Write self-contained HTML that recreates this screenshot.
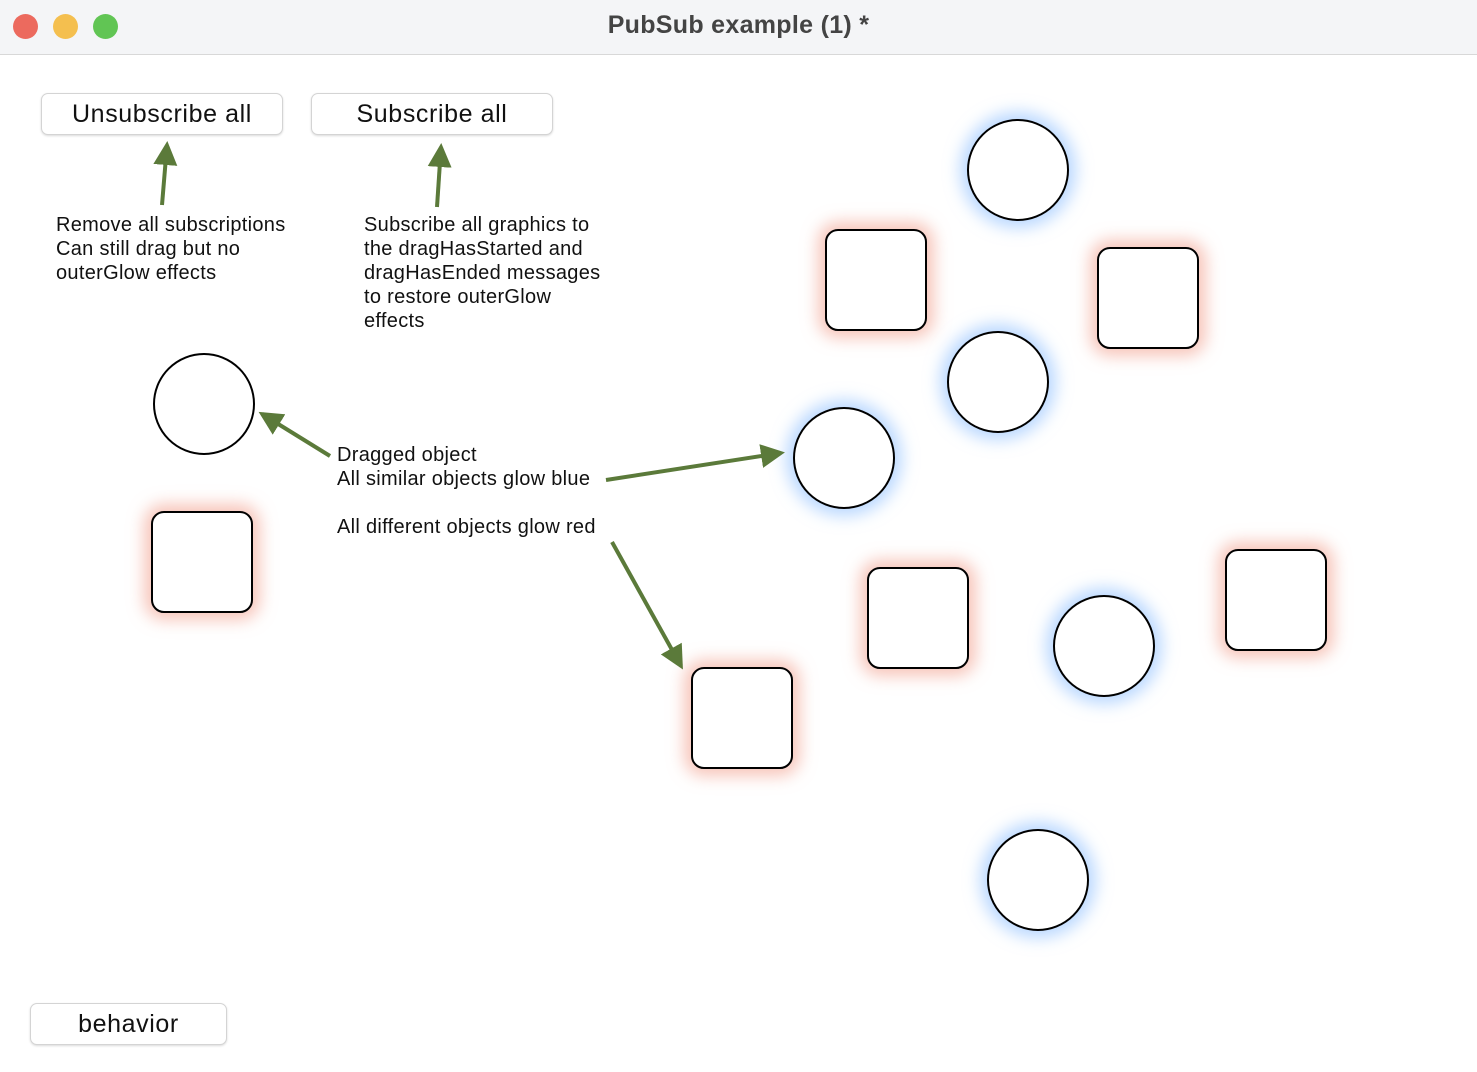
<!DOCTYPE html>
<html><head><style>
*{box-sizing:border-box}
body{margin:0;width:1477px;height:1072px;overflow:hidden;background:#fff;font-family:"Liberation Sans",sans-serif;position:relative}
.tb{position:absolute;left:0;top:0;width:1477px;height:55px;background:#f4f5f7;border-bottom:1px solid #d8d8d8}
.tl{position:absolute;top:14px;width:25px;height:25px;border-radius:50%}
.title{position:absolute;top:11px;width:1477px;text-align:center;font-size:25px;font-weight:bold;color:#444;letter-spacing:0.3px}
.btn{position:absolute;height:42px;background:#fff;border:1px solid #d4d4d4;border-radius:7px;box-shadow:0 1px 2px rgba(0,0,0,.15);text-align:center;line-height:40px;font-size:25px;color:#111;letter-spacing:0.6px}
.c{position:absolute;width:102px;height:102px;border:2px solid #000;border-radius:50%;background:#fff}
.b{box-shadow:0 0 16px 7px rgba(140,190,255,.6)}
.s{position:absolute;width:102px;height:102px;border:2px solid #000;border-radius:13px;background:#fff;box-shadow:0 0 16px 7px rgba(240,150,130,.55)}
.t{position:absolute;font-size:20px;line-height:24px;color:#111;white-space:pre;letter-spacing:0.3px}
</style></head><body>
<div class="tb"></div>
<div class="tl" style="left:13px;background:#ec6a5e"></div>
<div class="tl" style="left:53px;background:#f4bf4f"></div>
<div class="tl" style="left:93px;background:#61c554"></div>
<div class="title">PubSub example (1) *</div>
<div class="btn" style="left:41px;top:93px;width:242px">Unsubscribe all</div>
<div class="btn" style="left:311px;top:93px;width:242px">Subscribe all</div>
<div class="btn" style="left:30px;top:1003px;width:197px">behavior</div>
<div class="t" style="left:56px;top:213px">Remove all subscriptions
Can still drag but no
outerGlow effects</div>
<div class="t" style="left:364px;top:213px">Subscribe all graphics to
the dragHasStarted and
dragHasEnded messages
to restore outerGlow
effects</div>
<div class="t" style="left:337px;top:443px">Dragged object
All similar objects glow blue

All different objects glow red</div>
<div class="c b" style="left:967px;top:119px"></div>
<div class="c b" style="left:947px;top:331px"></div>
<div class="c b" style="left:793px;top:407px"></div>
<div class="c" style="left:153px;top:353px"></div>
<div class="c b" style="left:1053px;top:595px"></div>
<div class="c b" style="left:987px;top:829px"></div>
<div class="s" style="left:825px;top:229px"></div>
<div class="s" style="left:1097px;top:247px"></div>
<div class="s" style="left:151px;top:511px"></div>
<div class="s" style="left:867px;top:567px"></div>
<div class="s" style="left:1225px;top:549px"></div>
<div class="s" style="left:691px;top:667px"></div>
<svg width="1477" height="1072" style="position:absolute;left:0;top:0">
<defs><marker id="a" markerWidth="6" markerHeight="6" refX="5" refY="3" orient="auto" markerUnits="strokeWidth"><path d="M0,0L6,3L0,6z" fill="#5b7a3a"/></marker></defs>
<g stroke="#5b7a3a" stroke-width="4" fill="none" marker-end="url(#a)">
<line x1="162" y1="205" x2="167" y2="145"/>
<line x1="437" y1="207" x2="441" y2="147"/>
<line x1="330" y1="456" x2="262" y2="414"/>
<line x1="606" y1="480" x2="781" y2="453"/>
<line x1="612" y1="542" x2="681" y2="666"/>
</g></svg>
</body></html>
